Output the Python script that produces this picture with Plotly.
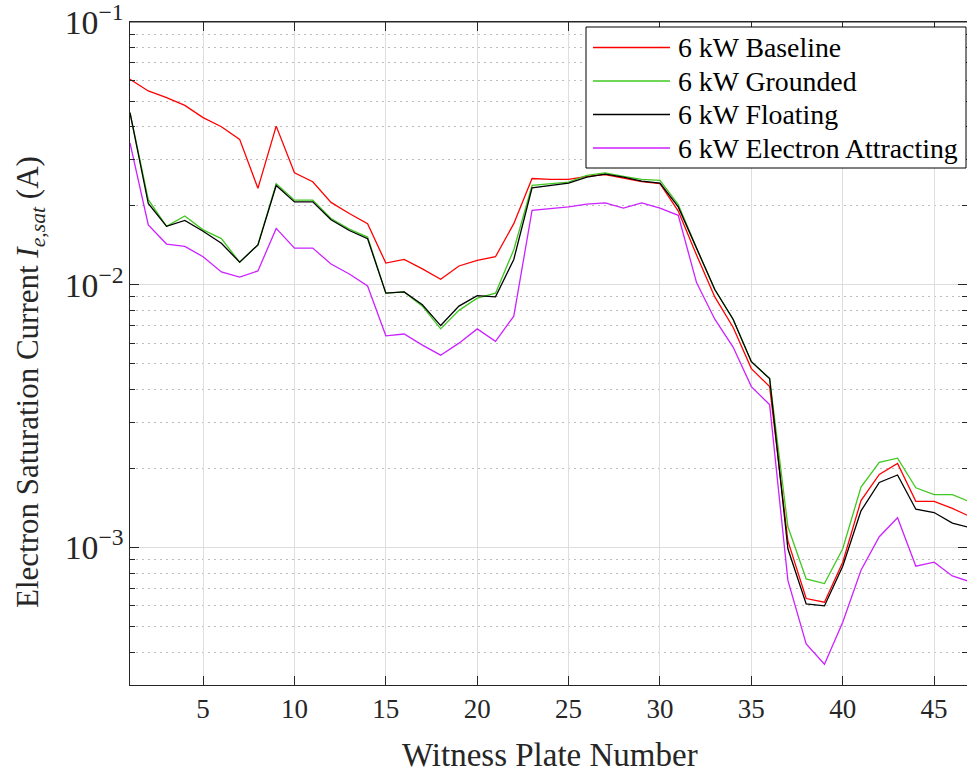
import numpy as np
import plotly.graph_objects as go

# Witness plate index
plates = list(range(1, 48))

# Electron saturation current (A) per plate, one list per configuration
baseline = [0.0606, 0.0547, 0.0516, 0.0482, 0.0433, 0.0400, 0.0358, 0.0233, 0.0402, 0.0267,
            0.0247, 0.0206, 0.0187, 0.0171, 0.0121, 0.0125, 0.0115, 0.0105, 0.0118, 0.0124,
            0.0128, 0.0171, 0.0254, 0.0252, 0.0252, 0.0259, 0.0263, 0.0255, 0.0247, 0.0243,
            0.0191, 0.0130, 0.0090, 0.0069, 0.0048, 0.0041, 0.00106, 0.00064, 0.00062, 0.00088,
            0.00151, 0.00190, 0.00209, 0.00150, 0.00150, 0.00141, 0.00131]
grounded = [0.0452, 0.0211, 0.0167, 0.0183, 0.0162, 0.0150, 0.0122, 0.0142, 0.0243, 0.0210,
            0.0210, 0.0179, 0.0163, 0.0152, 0.0093, 0.0094, 0.0083, 0.0068, 0.0080, 0.0089,
            0.0093, 0.0136, 0.0239, 0.0242, 0.0246, 0.0261, 0.0267, 0.0259, 0.0252, 0.0250,
            0.0202, 0.0138, 0.0096, 0.0074, 0.0051, 0.0044, 0.00120, 0.00076, 0.00073, 0.00099,
            0.00170, 0.00211, 0.00219, 0.00169, 0.00159, 0.00159, 0.00149]
floating = [0.0452, 0.0204, 0.0167, 0.0176, 0.0160, 0.0144, 0.0122, 0.0142, 0.0239, 0.0207,
            0.0207, 0.0177, 0.0161, 0.0150, 0.0093, 0.0094, 0.0084, 0.0070, 0.0083, 0.0091,
            0.0090, 0.0125, 0.0234, 0.0239, 0.0244, 0.0257, 0.0264, 0.0257, 0.0248, 0.0244,
            0.0198, 0.0138, 0.0096, 0.0074, 0.0051, 0.0044, 0.00099, 0.00061, 0.00060, 0.00085,
            0.00138, 0.00177, 0.00189, 0.00140, 0.00136, 0.00124, 0.00119]
attracting = [0.0347, 0.0169, 0.0143, 0.0140, 0.0128, 0.0112, 0.0107, 0.0113, 0.0164, 0.0138,
              0.0138, 0.0120, 0.0110, 0.0099, 0.0064, 0.0065, 0.0059, 0.0054, 0.0060, 0.0068,
              0.0061, 0.0076, 0.0192, 0.0195, 0.0198, 0.0203, 0.0205, 0.0196, 0.0205, 0.0196,
              0.0184, 0.0102, 0.0074, 0.0058, 0.0041, 0.0035, 0.00075, 0.00043, 0.00036, 0.00052,
              0.00082, 0.00110, 0.00130, 0.00085, 0.00088, 0.00078, 0.00074]

series_names = ["6 kW Baseline", "6 kW Grounded", "6 kW Floating", "6 kW Electron Attracting"]
series_values = [baseline, grounded, floating, attracting]
series_colors = ["#ff0000", "#40c820", "#000000", "#cc22ff"]

FONT = "Liberation Serif, Times New Roman, Times, DejaVu Serif, serif"
AX = "#262626"

W, H = 967, 772
ML, MR, MT, MB = 130, 0, 22, 87
pw, ph = W - ML - MR, H - MT - MB

fig = go.Figure()
for name, vals, col in zip(series_names, series_values, series_colors):
    fig.add_trace(go.Scatter(x=plates, y=vals, mode="lines", name=name,
                             line=dict(color=col, width=1.3), showlegend=False))

# hand-drawn legend box in the upper right of the axes
def px_x(p):
    return (p - ML) / pw

def px_y(p):
    return (H - MB - p) / ph

shapes = [
    # top frame edge of the axes box
    dict(type="line", xref="paper", yref="paper", x0=0, x1=1, y0=1, y1=1,
         line=dict(color=AX, width=1), layer="above"),
    dict(type="rect", xref="paper", yref="paper",
         x0=px_x(586), x1=px_x(966), y0=px_y(168), y1=px_y(27),
         line=dict(color="#000000", width=1), fillcolor="white", layer="above"),
]
annotations = []
row_y = [47.5, 81, 114.5, 148]
for name, col, ry in zip(series_names, series_colors, row_y):
    shapes.append(dict(type="line", xref="paper", yref="paper",
                       x0=px_x(593), x1=px_x(670), y0=px_y(ry), y1=px_y(ry),
                       line=dict(color=col, width=1.3), layer="above"))
    annotations.append(dict(xref="paper", yref="paper", x=px_x(676), y=px_y(ry),
                            xanchor="left", yanchor="middle", showarrow=False,
                            text=name, font=dict(family=FONT, size=27.8, color="#000000")))

annotations.append(dict(xref="paper", yref="paper", x=px_x(550), y=px_y(755),
                        xanchor="center", yanchor="middle", showarrow=False,
                        text="Witness Plate Number",
                        font=dict(family=FONT, size=33, color="#262626")))
annotations.append(dict(xref="paper", yref="paper", x=px_x(30), y=px_y(382),
                        xanchor="center", yanchor="middle", showarrow=False, textangle=-90,
                        text="Electron Saturation Current <i>I</i><sub><i>e,sat</i></sub> (A)",
                        font=dict(family=FONT, size=31, color="#262626")))

fig.update_layout(
    width=W, height=H,
    margin=dict(l=ML, r=MR, t=MT, b=MB, pad=0),
    paper_bgcolor="white", plot_bgcolor="white",
    shapes=shapes, annotations=annotations,
    font=dict(family=FONT, color=AX),
)
fig.update_xaxes(
    range=[1, 46.8], tick0=0, dtick=5,
    showline=True, linecolor=AX, linewidth=1, mirror="ticks",
    ticks="inside", ticklen=9, tickcolor=AX, tickwidth=1,
    showgrid=True, gridcolor="#dedede", gridwidth=1,
    tickfont=dict(family=FONT, size=27, color=AX),
    ticklabeloverflow="allow",
    zeroline=False,
)
fig.update_yaxes(
    type="log", range=[np.log10(3e-4), -0.9995], dtick=1, exponentformat="power",
    showline=True, linecolor=AX, linewidth=1, mirror="ticks",
    ticks="inside", ticklen=9, tickcolor=AX, tickwidth=1,
    showgrid=True, gridcolor="#dedede", gridwidth=1,
    minor=dict(ticks="inside", ticklen=5, tickcolor=AX, dtick="D1",
               showgrid=True, gridcolor="#bdbdbd", griddash="2px,4px", gridwidth=1),
    tickfont=dict(family=FONT, size=27, color=AX),
    ticklabeloverflow="allow",
    zeroline=False,
)

fig.write_html("out.html")
